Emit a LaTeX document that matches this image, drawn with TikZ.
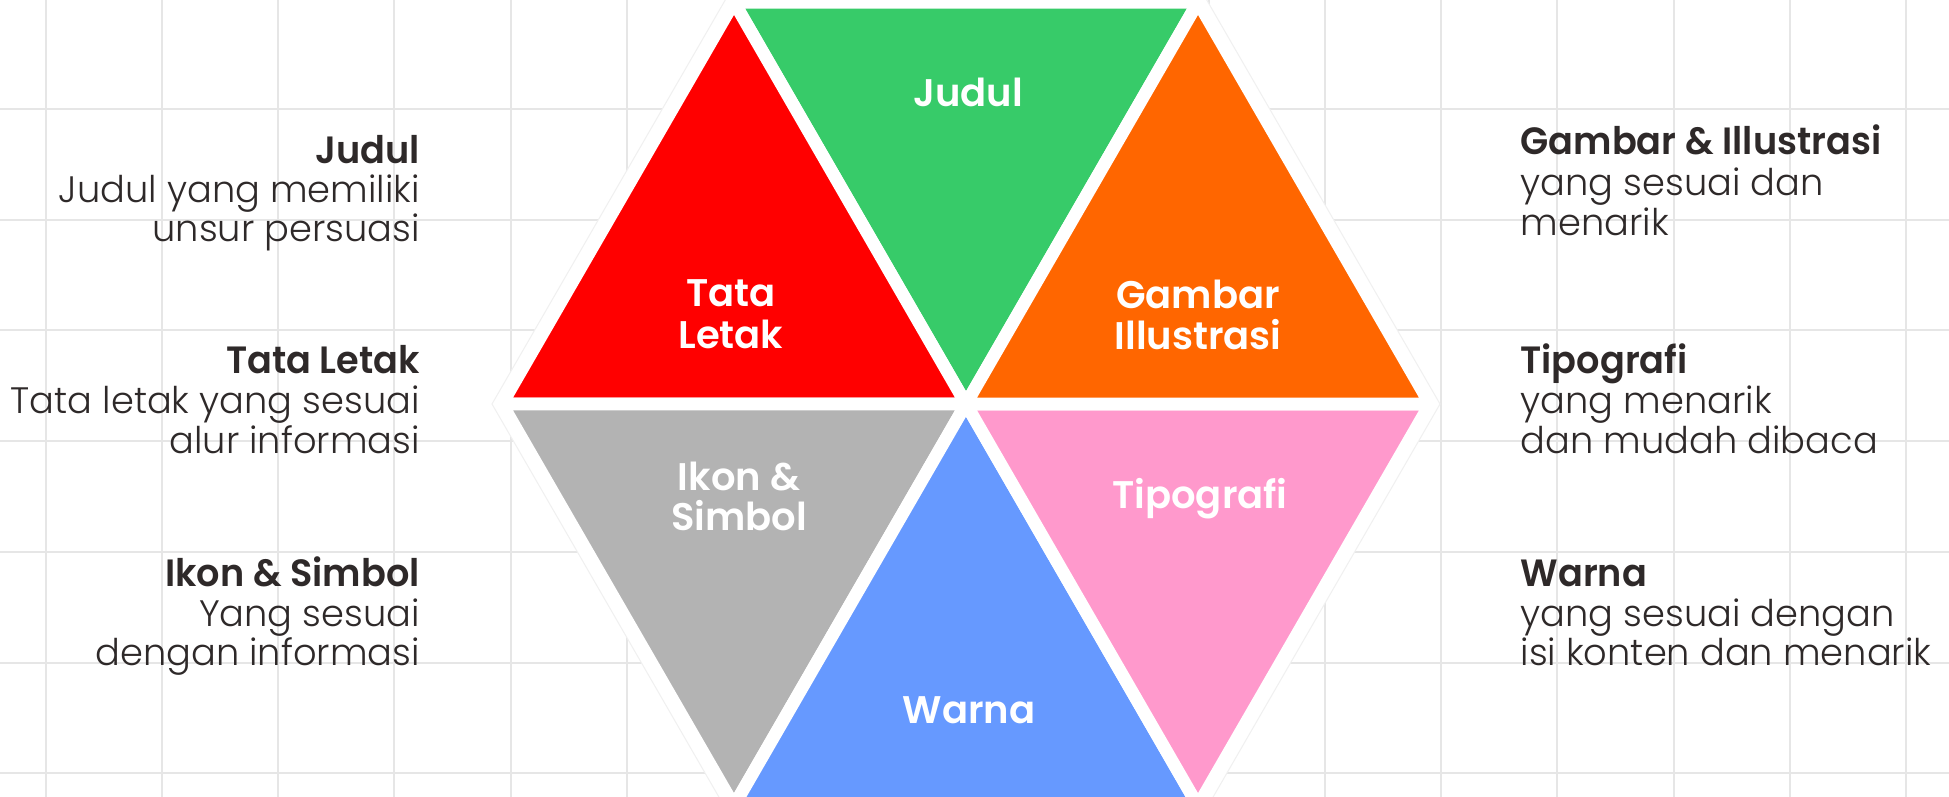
\documentclass[tikz,border=0pt]{standalone}
\usepackage{fontspec}
\newfontfamily\lightf{Poppins Light}
\newfontfamily\boldf{Poppins SemiBold}
\newfontfamily\headf{Poppins SemiBold}[FakeStretch=0.965]
\definecolor{cred}{HTML}{FF0000}
\definecolor{cgreen}{HTML}{37CB69}
\definecolor{corange}{HTML}{FF6600}
\definecolor{cgray}{HTML}{B3B3B3}
\definecolor{cblue}{HTML}{6699FF}
\definecolor{cpink}{HTML}{FF99CC}
\definecolor{cgrid}{HTML}{E6E6E6}
\definecolor{ctext}{HTML}{2E2929}
\tikzset{
  tri/.style={fill=#1, draw=white, line width=12.7pt, line join=round},
  inlbl/.style={text=white, inner sep=0pt, anchor=base, font=\boldf\fontsize{38.5}{42}\selectfont},
  lhead/.style={text=ctext, inner sep=0pt, anchor=base east, font=\headf\fontsize{38}{40}\selectfont},
  ldesc/.style={text=ctext, inner sep=0pt, anchor=base east, font=\lightf\fontsize{36.8}{40}\selectfont},
  rhead/.style={text=ctext, inner sep=0pt, anchor=base west, font=\headf\fontsize{38}{40}\selectfont},
  rdesc/.style={text=ctext, inner sep=0pt, anchor=base west, font=\lightf\fontsize{36.8}{40}\selectfont},
  gridline/.style={draw=cgrid, line width=2pt}
}
\begin{document}
\begin{tikzpicture}[x=1pt, y=-1pt]
\useasboundingbox (0,0) rectangle (1949,797);
\fill[white] (0,0) rectangle (1949,797);
% grid
\foreach \i in {0,...,16} { \draw[gridline] ({45.5+116.3*\i},0) -- ({45.5+116.3*\i},797); }
\foreach \j in {0,...,6} { \draw[gridline] (0,{109+110.7*\j}) -- (1949,{109+110.7*\j}); }
% hexagon backdrop
\coordinate (C) at (966,404);
\draw[fill=white, draw=black!6, line width=1pt]
  (1440,404) -- (1203,-6.5) -- (729,-6.5) -- (492,404) -- (729,814.5) -- (1203,814.5) -- cycle;
% hexagon vertices
\coordinate (V0) at (1430,404);
\coordinate (V1) at (1198,2.2);
\coordinate (V2) at (734,2.2);
\coordinate (V3) at (502,404);
\coordinate (V4) at (734,805.8);
\coordinate (V5) at (1198,805.8);
\draw[tri=cgreen]  (C) -- (V1) -- (V2) -- cycle;
\draw[tri=cred]    (C) -- (V2) -- (V3) -- cycle;
\draw[tri=cgray]   (C) -- (V3) -- (V4) -- cycle;
\draw[tri=cblue]   (C) -- (V4) -- (V5) -- cycle;
\draw[tri=cpink]   (C) -- (V5) -- (V0) -- cycle;
\draw[tri=corange] (C) -- (V0) -- (V1) -- cycle;
% triangle labels
\node[inlbl] (tJudul) at (968,107) {Judul};
\node[inlbl] (tTata) at (731,306) {Tata};
\node[inlbl] (tLetak) at (731,348) {Letak};
\node[inlbl] (tGambar) at (1198,308) {Gambar};
\node[inlbl] (tIllus) at (1198,349) {Illustrasi};
\node[inlbl] (tIkon) at (739,490) {Ikon \&};
\node[inlbl] (tSimbol) at (739,530.7) {Simbol};
\node[inlbl] (tTipo) at (1200,508.3) {Tipografi};
\node[inlbl] (tWarna) at (969,723.3) {Warna};
% left texts
\node[lhead] (lJudul) at (420,163.3) {Judul};
\node[ldesc] (lJudul1) at (420,202.5) {Judul yang memiliki};
\node[ldesc] (lJudul2) at (420,241.7) {unsur persuasi};
\node[lhead] (lTata) at (420,373.3) {Tata Letak};
\node[ldesc] (lTata1) at (420,413.3) {Tata letak yang sesuai};
\node[ldesc] (lTata2) at (420,453.3) {alur informasi};
\node[lhead] (lIkon) at (420,586.7) {Ikon \& Simbol};
\node[ldesc] (lIkon1) at (420,626.7) {Yang sesuai};
\node[ldesc] (lIkon2) at (420,665) {dengan informasi};
% right texts
\node[rhead] (rGambar) at (1520.4,155) {Gambar \& Illustrasi};
\node[rdesc] (rGambar1) at (1520.4,195) {yang sesuai dan};
\node[rdesc] (rGambar2) at (1520.4,235) {menarik};
\node[rhead] (rTipo) at (1520.4,373.3) {Tipografi};
\node[rdesc] (rTipo1) at (1520.4,413.3) {yang menarik};
\node[rdesc] (rTipo2) at (1520.4,453.3) {dan mudah dibaca};
\node[rhead] (rWarna) at (1520.4,586) {Warna};
\node[rdesc] (rWarna1) at (1520.4,626.7) {yang sesuai dengan};
\node[rdesc] (rWarna2) at (1520.4,665) {isi konten dan menarik};
\end{tikzpicture}
\end{document}
